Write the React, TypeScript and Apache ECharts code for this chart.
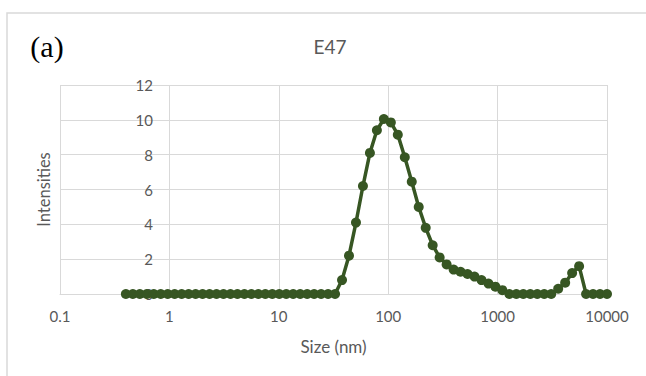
import React, { useEffect, useRef } from "react";
import * as echarts from "echarts";

const sizes = [
  0.4, 0.4632, 0.5365, 0.6213, 0.7195, 0.8332, 0.9649, 1.117, 1.294, 1.499,
  1.736, 2.01, 2.328, 2.696, 3.122, 3.615, 4.187, 4.849, 5.615, 6.503,
  7.531, 8.721, 10.1, 11.7, 13.54, 15.69, 18.17, 21.04, 24.36, 28.21,
  32.67, 37.84, 43.82, 50.75, 58.77, 68.06, 78.82, 91.28, 105.7, 122.4,
  141.8, 164.2, 190.1, 220.2, 255.0, 295.3, 342.0, 396.1, 458.7, 531.2,
  615.1, 712.4, 825.0, 955.4, 1106, 1281, 1484, 1718, 1990, 2305,
  2669, 3091, 3580, 4145, 4801, 5560, 6439, 7456, 8635, 10000,
];

const intensities = [
  0, 0, 0, 0, 0, 0, 0, 0, 0, 0,
  0, 0, 0, 0, 0, 0, 0, 0, 0, 0,
  0, 0, 0, 0, 0, 0, 0, 0, 0, 0,
  0, 0.8, 2.2, 4.1, 6.2, 8.1, 9.4, 10.05, 9.85, 9.15,
  7.85, 6.45, 5.0, 3.8, 2.8, 2.1, 1.7, 1.4, 1.28, 1.15,
  1.0, 0.8, 0.6, 0.42, 0.22, 0, 0, 0, 0, 0,
  0, 0, 0.3, 0.65, 1.2, 1.6, 0, 0, 0, 0,
];

const title = "E47";
const panelLabel = "(a)";
const xName = "Size (nm)";
const yName = "Intensities";

const GREEN = "#375623";
const GRID = "#d9d9d9";
const TEXT = "#595959";
const FONT = "Lato";

export default function App() {
  const ref = useRef<HTMLDivElement>(null);

  useEffect(() => {
    if (!ref.current) return;
    const chart = echarts.init(ref.current, undefined, { renderer: "svg" });
    const data = sizes.map((s, i) => [s, intensities[i]]);
    chart.setOption({
      animation: false,
      backgroundColor: "#ffffff",
      grid: { left: 60, right: 39, top: 85, bottom: 82, containLabel: false },
      graphic: [
        {
          type: "rect",
          shape: { x: 7, y: 13, width: 700, height: 420 },
          style: { fill: "none", stroke: GRID, lineWidth: 1.5 },
          silent: true,
        },
        {
          type: "text",
          x: 330,
          y: 46,
          style: {
            text: title,
            fill: TEXT,
            fontSize: 19,
            fontFamily: FONT,
            textAlign: "center",
            textVerticalAlign: "middle",
          },
        },
        {
          type: "text",
          x: 47,
          y: 46,
          style: {
            text: panelLabel,
            fill: "#000000",
            fontSize: 30,
            fontFamily: "Liberation Serif",
            textAlign: "center",
            textVerticalAlign: "middle",
          },
        },
      ],
      xAxis: {
        type: "log",
        logBase: 10,
        min: 0.1,
        max: 10000,
        name: xName,
        nameLocation: "middle",
        nameGap: 44,
        nameTextStyle: { color: TEXT, fontSize: 17, fontFamily: FONT },
        axisLine: { show: true, lineStyle: { color: GRID, width: 1 } },
        axisTick: { show: false },
        axisLabel: {
          color: TEXT,
          fontSize: 15,
          fontFamily: FONT,
          margin: 14,
          formatter: (v: number) => String(Number(v.toPrecision(6))),
        },
        splitLine: { show: true, lineStyle: { color: GRID, width: 1 } },
      },
      yAxis: {
        type: "value",
        min: 0,
        max: 12,
        interval: 2,
        name: yName,
        nameLocation: "middle",
        nameGap: 7,
        nameTextStyle: { color: TEXT, fontSize: 16.5, fontFamily: FONT },
        axisLine: { show: false },
        axisTick: { show: false },
        axisLabel: {
          color: TEXT,
          fontSize: 15,
          fontFamily: FONT,
          margin: -93,
        },
        splitLine: { show: true, lineStyle: { color: GRID, width: 1 } },
      },
      series: [
        {
          type: "line",
          data,
          symbol: "circle",
          symbolSize: 10,
          showSymbol: true,
          lineStyle: { color: GREEN, width: 3.5 },
          itemStyle: { color: GREEN },
          z: 3,
        },
      ],
    });
    return () => chart.dispose();
  }, []);

  return (
    <div
      ref={ref}
      style={{ position: "fixed", left: 0, top: 0, width: 646, height: 376 }}
    />
  );
}
